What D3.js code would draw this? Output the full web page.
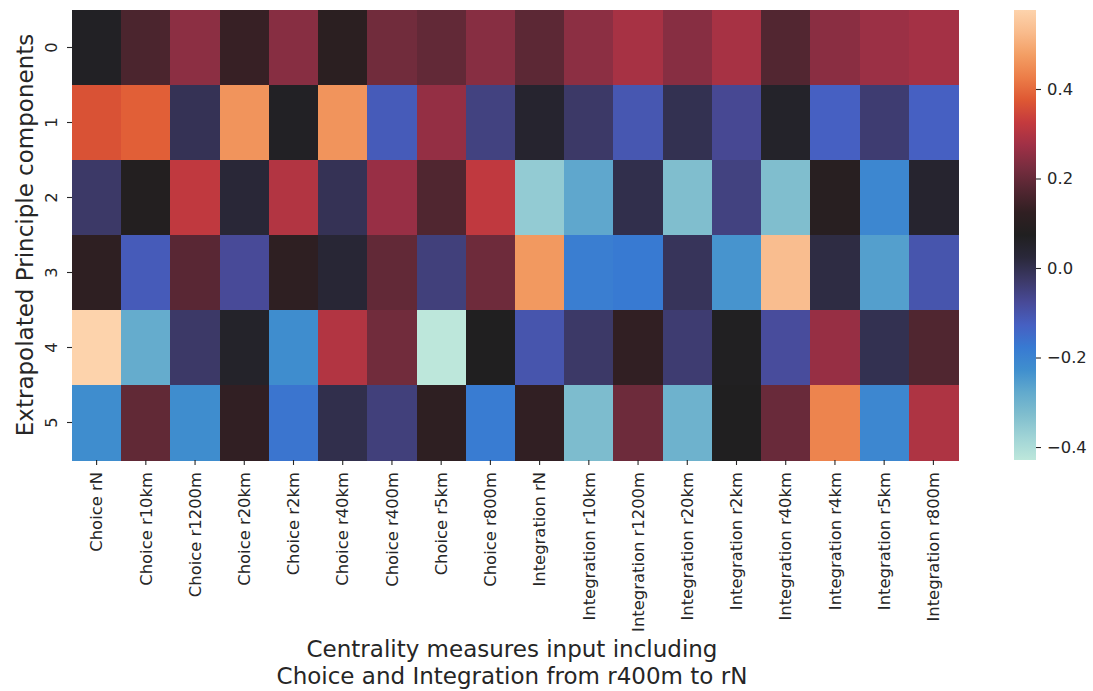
<!DOCTYPE html>
<html>
<head>
<meta charset="utf-8">
<script src="https://cdn.jsdelivr.net/npm/d3@7"></script>
<style>
  html, body { margin: 0; padding: 0; background: #ffffff; }
  svg text { font-family: "DejaVu Sans", sans-serif; fill: #262626; }
</style>
</head>
<body>
<svg id="chart" width="1093" height="691"></svg>
<script>
// Centrality measures (columns)
const measures = [
  "Choice rN", "Choice r10km", "Choice r1200m", "Choice r20km", "Choice r2km",
  "Choice r40km", "Choice r400m", "Choice r5km", "Choice r800m",
  "Integration rN", "Integration r10km", "Integration r1200m", "Integration r20km",
  "Integration r2km", "Integration r40km", "Integration r4km", "Integration r5km",
  "Integration r800m"
];
// Principal components (rows)
const components = ["0", "1", "2", "3", "4", "5"];

// Loadings for each component across the measures
const pc0 = [0.064, 0.164, 0.25, 0.134, 0.243, 0.109, 0.215, 0.195, 0.243, 0.187, 0.25, 0.285, 0.243, 0.285, 0.174, 0.247, 0.269, 0.281];
const pc1 = [0.365, 0.385, -0.007, 0.461, 0.064, 0.461, -0.117, 0.26, -0.052, 0.044, -0.027, -0.107, -0.002, -0.072, 0.054, -0.127, -0.037, -0.127];
const pc2 = [-0.027, 0.084, 0.32, 0.029, 0.30, -0.007, 0.265, 0.171, 0.32, -0.359, -0.273, 0.003, -0.328, -0.052, -0.328, 0.099, -0.208, 0.044];
const pc3 = [0.119, -0.117, 0.184, -0.077, 0.119, 0.034, 0.195, -0.047, 0.212, 0.469, -0.188, -0.178, -0.012, -0.238, 0.531, 0.013, -0.258, -0.102];
const pc4 = [0.5765, -0.283, -0.027, 0.054, -0.223, 0.30, 0.215, -0.429, 0.074, -0.102, -0.027, 0.126, -0.037, 0.069, -0.082, 0.263, -0.002, 0.171];
const pc5 = [-0.223, 0.194, -0.223, 0.126, -0.168, 0.003, -0.047, 0.119, -0.183, 0.126, -0.323, 0.21, -0.298, 0.074, 0.205, 0.436, -0.208, 0.295];

const colorbarTicks = [0.4, 0.2, 0.0, -0.2, -0.4];

const matrix = [pc0, pc1, pc2, pc3, pc4, pc5];
const vmin = d3.min(matrix.flat()), vmax = d3.max(matrix.flat());

// "icefire"-style diverging palette, sampled every 0.05
const paletteColors = [
  "rgb(189,231,219)", "rgb(160,212,214)", "rgb(128,190,206)", "rgb(98,170,205)",
  "rgb(64,143,206)", "rgb(56,122,210)", "rgb(70,96,194)", "rgb(72,74,152)",
  "rgb(60,57,103)", "rgb(42,40,58)", "rgb(32,31,32)", "rgb(48,31,34)",
  "rgb(82,38,49)", "rgb(120,45,63)", "rgb(160,48,70)", "rgb(196,58,62)",
  "rgb(222,88,51)", "rgb(236,125,72)", "rgb(243,158,100)", "rgb(249,187,140)",
  "rgb(253,211,172)"
];
const paletteStops = paletteColors.map((_, i) => i / (paletteColors.length - 1));
const palette = d3.scaleLinear().domain(paletteStops).range(paletteColors)
  .interpolate(d3.interpolateRgb).clamp(true);
const norm = d3.scaleLinear().domain([vmin, vmax]).range([0, 1]).clamp(true);
const color = v => palette(norm(v));

const svg = d3.select("#chart");
const plot = { left: 72, top: 10, right: 958, bottom: 460 };

const x = d3.scaleBand().domain(measures).range([plot.left, plot.right]);
const y = d3.scaleBand().domain(components).range([plot.top, plot.bottom]);

// Heatmap cells
const cells = [];
matrix.forEach((row, i) => row.forEach((v, j) => cells.push({ r: components[i], c: measures[j], v })));
svg.append("g").selectAll("rect").data(cells).join("rect")
  .attr("x", d => x(d.c))
  .attr("y", d => y(d.r))
  .attr("width", x.bandwidth() + 0.5)
  .attr("height", y.bandwidth() + 0.5)
  .attr("fill", d => color(d.v))
  .attr("shape-rendering", "crispEdges");

// X axis
const xAxis = svg.append("g")
  .attr("transform", `translate(0,${plot.bottom})`)
  .call(d3.axisBottom(x).tickSize(5).tickPadding(4));
xAxis.select(".domain").remove();
xAxis.selectAll(".tick line").attr("stroke", "#262626").attr("stroke-width", 1.1);
xAxis.selectAll(".tick text")
  .attr("font-size", "16.4px")
  .attr("transform", "rotate(-90)")
  .attr("text-anchor", "end")
  .attr("x", -12)
  .attr("y", 0)
  .attr("dy", "0.35em");

// Y axis
const yAxis = svg.append("g")
  .attr("transform", `translate(${plot.left},0)`)
  .call(d3.axisLeft(y).tickSize(5).tickPadding(4));
yAxis.select(".domain").remove();
yAxis.selectAll(".tick line").attr("stroke", "#262626").attr("stroke-width", 1.1);
yAxis.selectAll(".tick text")
  .attr("font-size", "16.4px")
  .attr("text-anchor", "middle")
  .attr("x", 0)
  .attr("dy", 0)
  .attr("transform", "translate(-21,0) rotate(-90)")
  .attr("dominant-baseline", "central");

// Axis titles
svg.append("text")
  .attr("transform", `translate(33,${(plot.top + plot.bottom) / 2}) rotate(-90)`)
  .attr("text-anchor", "middle")
  .attr("font-size", "23px")
  .text("Extrapolated Principle components");

const xTitle = svg.append("text")
  .attr("text-anchor", "middle")
  .attr("font-size", "23px");
xTitle.append("tspan").attr("x", (plot.left + plot.right) / 2 - 3).attr("y", 657)
  .text("Centrality measures input including");
xTitle.append("tspan").attr("x", (plot.left + plot.right) / 2 - 3).attr("y", 684)
  .text("Choice and Integration from r400m to rN");

// Colorbar
const cb = { x: 1014, w: 22 };
const cbScale = d3.scaleLinear().domain([vmin, vmax]).range([plot.bottom, plot.top]);
const defs = svg.append("defs");
const grad = defs.append("linearGradient").attr("id", "cbGrad")
  .attr("x1", 0).attr("y1", 1).attr("x2", 0).attr("y2", 0);
paletteStops.forEach((t, i) => grad.append("stop")
  .attr("offset", t).attr("stop-color", paletteColors[i]));
svg.append("rect")
  .attr("x", cb.x).attr("y", plot.top)
  .attr("width", cb.w).attr("height", plot.bottom - plot.top)
  .attr("fill", "url(#cbGrad)");

const cbAxis = svg.append("g")
  .attr("transform", `translate(${cb.x + cb.w},0)`)
  .call(d3.axisRight(cbScale).tickValues(colorbarTicks).tickSize(5).tickPadding(6)
    .tickFormat(d => d3.format(".1f")(d).replace("-", "\u2212")));
cbAxis.select(".domain").remove();
cbAxis.selectAll(".tick line").attr("stroke", "#262626").attr("stroke-width", 1.1);
cbAxis.selectAll(".tick text").attr("font-size", "16.4px");
</script>
</body>
</html>
